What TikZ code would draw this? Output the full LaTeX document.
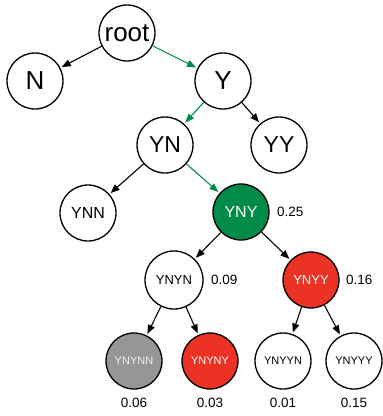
\documentclass[tikz,border=0pt]{standalone}
\usepackage{fontspec}
\setmainfont{Liberation Sans}
\usetikzlibrary{arrows.meta}
\definecolor{tgreen}{RGB}{0,140,72}
\definecolor{tred}{RGB}{236,50,36}
\definecolor{tgrey}{RGB}{150,150,150}
\begin{document}
\begin{tikzpicture}[x=1pt,y=-1pt,
  tnode/.style={circle,draw=black,line width=1.3pt,minimum size=56pt,inner sep=0pt,fill=white},
  big/.style={font=\fontsize{26}{28}\selectfont},
  mid/.style={font=\fontsize{23}{25}\selectfont},
  sml/.style={font=\fontsize{16}{18}\selectfont},
  tny/.style={font=\fontsize{13}{15}\selectfont},
  xs/.style={font=\fontsize{11}{13}\selectfont},
  val/.style={font=\fontsize{13.5}{15}\selectfont,inner sep=0pt},
  edge/.style={-{Triangle[length=9pt,width=7pt]},line width=1.1pt,shorten >=1.5pt},
  gedge/.style={edge,draw=tgreen,-{Triangle[length=9pt,width=7pt,fill=tgreen]}}]
\useasboundingbox (0,0) rectangle (383,416);
\node[tnode,big] (root) at (127,33) {root};
\node[tnode,big] (N) at (35,81) {N};
\node[tnode,big] (Y) at (223,81) {Y};
\node[tnode,mid] (YN) at (165,145) {YN};
\node[tnode,mid] (YY) at (279,145) {YY};
\node[tnode,sml] (YNN) at (88,213) {YNN};
\node[tnode,sml,fill=tgreen,text=white] (YNY) at (241,212) {YNY};
\node[tnode,tny,minimum size=58pt] (YNYN) at (174,280) {YNYN};
\node[tnode,tny,fill=tred,text=white] (YNYY) at (311,280) {YNYY};
\node[tnode,xs,fill=tgrey,text=white!90!gray] (YNYNN) at (134,361) {YNYNN};
\node[tnode,xs,fill=tred,text=white] (YNYNY) at (210,361) {YNYNY};
\node[tnode,xs] (YNYYN) at (283,361) {YNYYN};
\node[tnode,xs] (YNYYY) at (354,361) {YNYYY};
\node[val,anchor=west] (vYNY) at (277,212) {0.25};
\node[val,anchor=west] (vYNYN) at (211,280) {0.09};
\node[val,anchor=west] (vYNYY) at (346,280) {0.16};
\node[val] (vYNYNN) at (134,403) {0.06};
\node[val] (vYNYNY) at (210,403) {0.03};
\node[val] (vYNYYN) at (283,403) {0.01};
\node[val] (vYNYYY) at (354,403) {0.15};
\draw[edge] (root) -- (N);
\draw[gedge] (root) -- (Y);
\draw[gedge] (Y) -- (YN);
\draw[edge] (Y) -- (YY);
\draw[edge] (YN) -- (YNN);
\draw[gedge] (YN) -- (YNY);
\draw[edge] (YNY) -- (YNYN);
\draw[edge] (YNY) -- (YNYY);
\draw[edge] (YNYN) -- (YNYNN);
\draw[edge] (YNYN) -- (YNYNY);
\draw[edge] (YNYY) -- (YNYYN);
\draw[edge] (YNYY) -- (YNYYY);
\end{tikzpicture}
\end{document}
